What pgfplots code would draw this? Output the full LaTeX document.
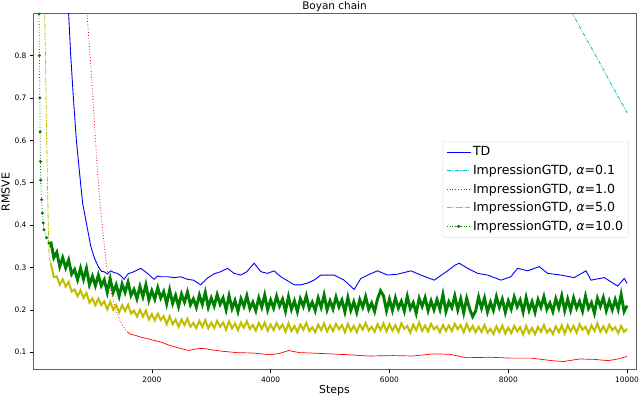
\documentclass[border=0pt]{standalone}
\usepackage{fontspec}
\setmainfont{DejaVu Sans}
\usepackage{pgfplots}
\pgfplotsset{compat=1.18}
\definecolor{mplc}{RGB}{0,191,191}
\definecolor{mply}{RGB}{191,191,0}
\definecolor{mplg}{RGB}{0,128,0}
\newcommand{\al}{\textit{α}}
\begin{document}
\begin{tikzpicture}
\begin{axis}[scale only axis,
width=603bp, height=356bp,
xmin=0, xmax=10150, ymin=0.058, ymax=0.898,
title={Boyan chain},
every axis title shift=0pt,
title style={at={(0.5,1)},anchor=base,font=\fontsize{10.5}{11}\selectfont,inner sep=0bp,yshift=4.7bp},
xlabel={Steps}, ylabel={RMSVE},
label style={font=\fontsize{11}{12}\selectfont},
xlabel style={yshift=4bp},
ylabel style={yshift=-2bp},
xtick={2000,4000,6000,8000,10000},
ytick={0.1,0.2,0.3,0.4,0.5,0.6,0.7,0.8},
scaled x ticks=false,
xtick pos=left, ytick pos=left, tick align=outside,
major tick length=3bp,
tick style={black, line width=0.6pt},
ticklabel style={font=\fontsize{7.5}{8}\selectfont},
/pgf/number format/assume math mode=true,
/pgf/number format/set thousands separator={},
yticklabel style={/pgf/number format/fixed,/pgf/number format/precision=1,/pgf/number format/fixed zerofill},
axis line style={gray!75!black, line width=1pt},
legend style={at={(0.988,0.643)},anchor=north east,
  font=\fontsize{12.6}{14}\selectfont,
  draw=gray!25, rounded corners=2bp, fill=white,
  row sep=3.6bp, inner sep=3.5bp, cells={anchor=west}},
legend image post style={xscale=1.4},
]
% TD
\addplot[blue, line width=0.9pt] coordinates {
(560,0.96) (600,0.898) (635,0.80) (680,0.70) (730,0.60) (800,0.50) (837,0.45) (905,0.40) (972,0.35)
(1040,0.32) (1106,0.30) (1160,0.29) (1196,0.290) (1250,0.285) (1309,0.292) (1360,0.288) (1421,0.286)
(1480,0.280) (1533,0.272) (1600,0.285) (1701,0.290) (1814,0.298) (1870,0.292) (1926,0.286) (2038,0.272)
(2100,0.280) (2151,0.278) (2263,0.278) (2380,0.276) (2487,0.278) (2600,0.272) (2700,0.270) (2824,0.259)
(2937,0.275) (3050,0.285) (3161,0.290) (3273,0.298) (3385,0.286) (3498,0.282) (3600,0.290) (3722,0.310)
(3834,0.290) (3947,0.286) (4059,0.292) (4171,0.278) (4290,0.268) (4396,0.259) (4508,0.259) (4620,0.263)
(4730,0.270) (4845,0.282) (5069,0.282) (5237,0.270) (5406,0.248) (5518,0.274) (5650,0.283) (5799,0.292)
(5968,0.282) (6136,0.284) (6360,0.292) (6529,0.282) (6753,0.270) (6978,0.292) (7100,0.305) (7174,0.310)
(7315,0.298) (7483,0.286) (7652,0.282) (7876,0.270) (8044,0.278) (8157,0.298) (8325,0.292) (8521,0.302)
(8662,0.286) (8886,0.282) (9111,0.276) (9307,0.292) (9392,0.270) (9616,0.276) (9841,0.256) (9953,0.274)
(10000,0.262)};
\addlegendentry{TD}
% alpha = 0.1
\addplot[mplc, line width=0.8pt, dash pattern=on 4bp off 1.5bp on 1bp off 1.5bp] coordinates {
(9000,0.92) (9083,0.898) (9300,0.843) (9532,0.785) (9750,0.728) (10000,0.665)};
\addlegendentry{ImpressionGTD, \al=0.1}
% alpha = 1.0
\addplot[red, line width=0.8pt, dotted] coordinates {
(870,0.96) (910,0.898) (960,0.80) (1010,0.70) (1051,0.60) (1101,0.50) (1123,0.46) (1180,0.38)
(1241,0.30) (1300,0.25) (1393,0.20) (1480,0.17) (1560,0.152) (1587,0.148)};
\addlegendentry{ImpressionGTD, \al=1.0}
\addplot[red, line width=0.7pt, forget plot] coordinates {
(1587,0.148) (1650,0.142) (1720,0.140) (1800,0.136) (1900,0.133) (2000,0.129) (2150,0.124) (2300,0.116)
(2480,0.109) (2620,0.104) (2720,0.107) (2820,0.109) (2920,0.108) (3030,0.105) (3200,0.102) (3430,0.099)
(3710,0.098) (3850,0.096) (3990,0.094) (4150,0.097) (4300,0.104) (4480,0.099) (4680,0.098) (5000,0.096)
(5300,0.094) (5640,0.091) (6060,0.092) (6400,0.091) (6740,0.096) (7020,0.095) (7290,0.087) (7700,0.088)
(8040,0.086) (8390,0.086) (8730,0.080) (8930,0.078) (9200,0.084) (9450,0.083) (9680,0.080) (9850,0.084)
(10000,0.090)};
% alpha = 5.0
\addplot[mply, line width=0.8pt, dash pattern=on 5bp off 1.5bp on 1bp off 1.5bp] coordinates {
(160,0.96) (197,0.898) (215,0.75) (230,0.60) (242,0.506) (259,0.39) (270,0.325) (300,0.31)};
\addlegendentry{ImpressionGTD, \al=5.0}
\addplot[mply, line width=2pt, forget plot] coordinates {
(300,0.310) (350,0.277) (400,0.279) (450,0.259) (500,0.272) (550,0.255) (600,0.266) (650,0.243)
(700,0.248) (750,0.232) (800,0.246) (850,0.228) (900,0.240) (950,0.217) (1000,0.227) (1050,0.211)
(1100,0.226) (1150,0.211) (1200,0.220) (1250,0.201) (1300,0.219) (1350,0.200) (1400,0.211) (1450,0.194)
(1500,0.211) (1550,0.197) (1600,0.212) (1650,0.191) (1700,0.198) (1750,0.184) (1800,0.200) (1850,0.184)
(1900,0.198) (1950,0.177) (2000,0.190) (2050,0.175) (2100,0.191) (2150,0.176) (2200,0.185) (2250,0.166)
(2300,0.185) (2350,0.166) (2400,0.177) (2450,0.160) (2500,0.177) (2550,0.164) (2600,0.179) (2650,0.160)
(2700,0.169) (2750,0.157) (2800,0.174) (2850,0.160) (2900,0.176) (2950,0.156) (3000,0.170) (3050,0.157)
(3100,0.174) (3150,0.160) (3200,0.170) (3250,0.153) (3300,0.173) (3350,0.156) (3400,0.168) (3450,0.152)
(3500,0.170) (3550,0.158) (3600,0.173) (3650,0.155) (3700,0.164) (3750,0.151) (3800,0.169) (3850,0.155)
(3900,0.170) (3950,0.151) (4000,0.165) (4050,0.152) (4100,0.169) (4150,0.155) (4200,0.165) (4250,0.148)
(4300,0.168) (4350,0.150) (4400,0.162) (4450,0.147) (4500,0.165) (4550,0.153) (4600,0.169) (4650,0.150)
(4700,0.159) (4750,0.147) (4800,0.165) (4850,0.152) (4900,0.168) (4950,0.149)
(5000,0.163) (5050,0.150) (5100,0.167) (5150,0.154) (5200,0.164) (5250,0.147) (5300,0.167) (5350,0.150)
(5400,0.162) (5450,0.147) (5500,0.165) (5550,0.153) (5600,0.169) (5650,0.151) (5700,0.160) (5750,0.148)
(5800,0.166) (5850,0.152) (5900,0.168) (5950,0.149)
(6000,0.166) (6050,0.151) (6100,0.164) (6150,0.148) (6200,0.168) (6250,0.155) (6300,0.162) (6350,0.146)
(6400,0.165) (6450,0.152) (6500,0.170) (6550,0.150) (6600,0.163) (6650,0.149) (6700,0.167) (6750,0.154)
(6800,0.161) (6850,0.147) (6900,0.164) (6950,0.150)
(7000,0.163) (7050,0.150) (7100,0.167) (7150,0.154) (7200,0.164) (7250,0.147) (7300,0.167) (7350,0.150)
(7400,0.162) (7450,0.147) (7500,0.160) (7550,0.148) (7600,0.164) (7650,0.146) (7700,0.155) (7750,0.143)
(7800,0.161) (7850,0.147) (7900,0.163) (7950,0.144)
(8000,0.158) (8050,0.145) (8100,0.162) (8150,0.149) (8200,0.159) (8250,0.142) (8300,0.162) (8350,0.145)
(8400,0.157) (8450,0.142) (8500,0.160) (8550,0.148) (8600,0.164) (8650,0.146) (8700,0.155) (8750,0.143)
(8800,0.161) (8850,0.147) (8900,0.163) (8950,0.144)
(9000,0.164) (9050,0.149) (9100,0.162) (9150,0.146) (9200,0.166) (9250,0.153) (9300,0.160) (9350,0.144)
(9400,0.163) (9450,0.150) (9500,0.168) (9550,0.148) (9600,0.161) (9650,0.147) (9700,0.165) (9750,0.152)
(9800,0.159) (9850,0.145) (9900,0.162) (9950,0.148) (10000,0.155)};
% alpha = 10.0
\addplot[mplg, line width=0.8pt, dotted, mark=*, mark size=1.1pt, mark options={solid}] coordinates {
(90,0.96) (101,0.898) (108,0.80) (115,0.70) (120,0.62) (125,0.55) (130,0.506) (144,0.46) (158,0.428)
(172,0.405) (186,0.389) (228,0.37) (270,0.357) (300,0.35)};
\addlegendentry{ImpressionGTD, \al=10.0}
\addplot[mplg, line width=2.9pt, forget plot] coordinates {
(300,0.361) (350,0.323) (400,0.336) (450,0.302) (500,0.323) (550,0.299) (600,0.318) (650,0.284)
(700,0.295) (750,0.271) (800,0.298) (850,0.272) (900,0.298) (950,0.259) (1000,0.279) (1050,0.257)
(1100,0.282) (1150,0.257) (1200,0.271) (1250,0.241) (1300,0.273) (1350,0.241) (1400,0.259) (1450,0.232)
(1500,0.261) (1550,0.241) (1600,0.265) (1650,0.234) (1700,0.248) (1750,0.226) (1800,0.255) (1850,0.231)
(1900,0.259) (1950,0.223) (2000,0.245) (2050,0.225) (2100,0.252) (2150,0.228) (2200,0.243) (2250,0.214)
(2300,0.247) (2350,0.215) (2400,0.234) (2450,0.208) (2500,0.237) (2550,0.218) (2600,0.242) (2650,0.212)
(2700,0.226) (2750,0.206) (2800,0.235) (2850,0.213) (2900,0.241) (2950,0.206) (3000,0.228) (3050,0.209)
(3100,0.236) (3150,0.213) (3200,0.228) (3250,0.200) (3300,0.233) (3350,0.203) (3400,0.222) (3450,0.196)
(3500,0.226) (3550,0.208) (3600,0.233) (3650,0.203) (3700,0.218) (3750,0.198) (3800,0.228) (3850,0.206)
(3900,0.235) (3950,0.200) (4000,0.223) (4050,0.204) (4100,0.232) (4150,0.209) (4200,0.225) (4250,0.197)
(4300,0.231) (4350,0.201) (4400,0.221) (4450,0.196) (4500,0.226) (4550,0.208) (4600,0.233) (4650,0.203)
(4700,0.218) (4750,0.198) (4800,0.228) (4850,0.206) (4900,0.235) (4950,0.200)
(5000,0.221) (5050,0.202) (5100,0.230) (5150,0.207) (5200,0.223) (5250,0.195) (5300,0.229) (5350,0.199)
(5400,0.219) (5450,0.194) (5500,0.224) (5550,0.206) (5600,0.231) (5650,0.201) (5700,0.216) (5750,0.196)
(5800,0.226) (5850,0.245) (5900,0.233) (5950,0.198)
(6000,0.225) (6050,0.199) (6100,0.228) (6150,0.204) (6200,0.220) (6250,0.197) (6300,0.232) (6350,0.203)
(6400,0.217) (6450,0.192) (6500,0.227) (6550,0.208) (6600,0.229) (6650,0.198) (6700,0.221) (6750,0.200)
(6800,0.224) (6850,0.201) (6900,0.236) (6950,0.196)
(7000,0.219) (7050,0.205) (7100,0.233) (7150,0.200) (7200,0.226) (7250,0.193) (7300,0.227) (7350,0.202)
(7400,0.184) (7450,0.197) (7500,0.230) (7550,0.204) (7600,0.228) (7650,0.195) (7700,0.218) (7750,0.199)
(7800,0.231) (7850,0.206) (7900,0.225) (7950,0.194)
(8000,0.221) (8050,0.202) (8100,0.230) (8150,0.207) (8200,0.223) (8250,0.195) (8300,0.229) (8350,0.199)
(8400,0.219) (8450,0.194) (8500,0.224) (8550,0.206) (8600,0.231) (8650,0.201) (8700,0.216) (8750,0.196)
(8800,0.226) (8850,0.204) (8900,0.233) (8950,0.198)
(9000,0.225) (9050,0.199) (9100,0.228) (9150,0.204) (9200,0.220) (9250,0.197) (9300,0.232) (9350,0.203)
(9400,0.217) (9450,0.192) (9500,0.227) (9550,0.208) (9600,0.229) (9650,0.198) (9700,0.221) (9750,0.200)
(9800,0.224) (9850,0.201) (9900,0.236) (9950,0.196) (10000,0.210)};
\end{axis}
\pgfresetboundingbox
\path ([shift={(-33bp,-29bp)}]current axis.south west) rectangle ([shift={(4bp,14bp)}]current axis.north east);
\end{tikzpicture}
\end{document}
